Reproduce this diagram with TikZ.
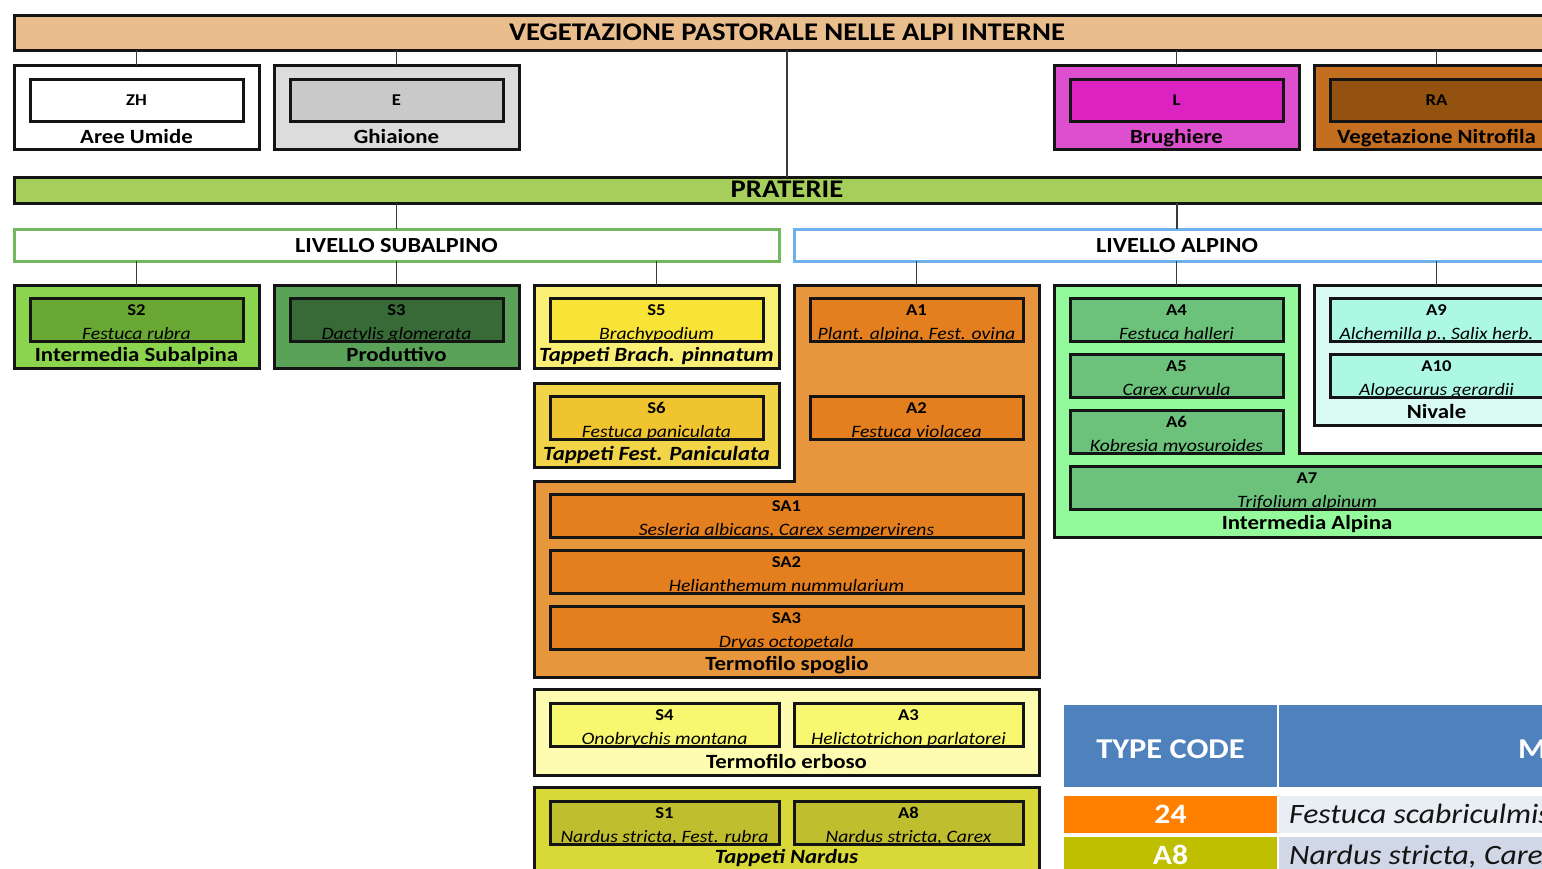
\documentclass[tikz,border=0pt]{standalone}
\usepackage{fontspec}
\usepackage{graphicx}
\setmainfont{Carlito}
\usetikzlibrary{fit}

% palette
\definecolor{ink}{HTML}{141414}
\definecolor{wirec}{HTML}{3A3A3A}
\definecolor{peach}{HTML}{EABD8C}
\definecolor{grayout}{HTML}{DCDCDC}
\definecolor{grayin}{HTML}{C9C9C9}
\definecolor{magout}{HTML}{DD4FCF}
\definecolor{magin}{HTML}{DC22C0}
\definecolor{brownout}{HTML}{C46E1F}
\definecolor{brownin}{HTML}{93520F}
\definecolor{prat}{HTML}{A5CF5A}
\definecolor{subline}{HTML}{72B85E}
\definecolor{alpline}{HTML}{6EB2EB}
\definecolor{stwoout}{HTML}{8BD44E}
\definecolor{stwoin}{HTML}{6AA834}
\definecolor{sthreeout}{HTML}{5AA257}
\definecolor{sthreein}{HTML}{376A37}
\definecolor{sfiveout}{HTML}{F8EF74}
\definecolor{sfivein}{HTML}{F8E337}
\definecolor{ssixout}{HTML}{F1D447}
\definecolor{ssixin}{HTML}{EFC42E}
\definecolor{spogout}{HTML}{E8963E}
\definecolor{spogin}{HTML}{E47F1F}
\definecolor{alpout}{HTML}{93F99B}
\definecolor{alpin}{HTML}{6CC27B}
\definecolor{nivout}{HTML}{D9FBF3}
\definecolor{nivin}{HTML}{ADF8E3}
\definecolor{erbout}{HTML}{FDFCB1}
\definecolor{erbin}{HTML}{F8F870}
\definecolor{narout}{HTML}{D8D838}
\definecolor{narin}{HTML}{BFBE2F}
\definecolor{thead}{HTML}{4F81BD}
\definecolor{torange}{HTML}{FF7F00}
\definecolor{tolive}{HTML}{BFBF00}
\definecolor{rowa}{HTML}{E9EDF4}
\definecolor{rowb}{HTML}{D0D8E8}

% lettering is set a little wider than the plain font
\newcommand\wide[1]{\scalebox{1.13}[1]{#1}}

\tikzset{
  box/.style={draw=ink, line width=3pt, inner sep=0pt, outer sep=0pt},
  levelbox/.style={line width=3pt, inner sep=0pt, outer sep=0pt, fill=white},
  cell/.style={inner sep=0pt, outer sep=0pt},
  wire/.style={draw=wirec, line width=1.3pt},
  headf/.style={font=\fontsize{25.4}{26}\selectfont\bfseries, inner sep=0pt},
  levelf/.style={font=\fontsize{21.5}{22}\selectfont\bfseries, inner sep=0pt},
  codef/.style={font=\fontsize{16.5}{17}\selectfont\bfseries, inner sep=0pt},
  specf/.style={font=\fontsize{17.4}{18}\selectfont\itshape, inner sep=0pt},
  labf/.style={font=\fontsize{20.2}{21}\selectfont\bfseries, inner sep=0pt},
  tabhf/.style={font=\fontsize{28.7}{29}\selectfont\bfseries, text=white, inner sep=0pt},
  tabcf/.style={font=\fontsize{28}{28}\selectfont\bfseries, text=white, inner sep=0pt},
  tabsf/.style={font=\fontsize{28}{28}\selectfont\itshape, text=ink, inner sep=0pt},
}

% top-row category: name, x1, y1, x2, y2, outer fill, inner fill, code, label
\newcommand\topcat[9]{%
  \node[box, fill=#6, fit={(#2,#3) (#4,#5)}] (#1) {};
  \node[box, fill=#7, fit={({#2+16},{#3+14}) ({#4-16},{#3+56})}] (#1-in) {};
  \node[codef, anchor=base] (#1-code) at ({(#2+#4)/2},{#3+40.5}) {\wide{#8}};
  \node[labf, anchor=base] (#1-lab) at ({(#2+#4)/2},{#5-6}) {\wide{#9}};
}
% grouping box with caption: name, x1, y1, x2, y2, fill, caption
\newcommand\groupbox[7]{%
  \node[box, fill=#6, fit={(#2,#3) (#4,#5)}] (#1) {};
  \node[labf, anchor=base] (#1-lab) at ({(#2+#4)/2},{#5-7}) {\wide{#7}};
}
% type box: name, x1, y1, x2, y2, fill, code, species (species sits on the lower edge)
\newcommand\typebox[8]{%
  \node[box, fill=#6, fit={(#2,#3) (#4,#5)}] (#1) {};
  \begin{scope}
    \clip (#2,#3) rectangle (#4,#5);
    \node[codef, anchor=base] (#1-code) at ({(#2+#4)/2},{#3+17}) {\wide{#7}};
    \node[specf, anchor=base] (#1-sp) at ({(#2+#4)/2},{#5-1.5}) {\wide{#8}};
  \end{scope}
  \draw[box] (#1.south west) rectangle (#1.north east);
}

\begin{document}
\begin{tikzpicture}[x=1pt, y=-1pt]
\useasboundingbox (0,0) rectangle (1542,868);
\clip (0,0) rectangle (1542,868);
\fill[white] (0,0) rectangle (1542,868);

% ---- head of the tree
\node[box, fill=peach, fit={(14,15) (1600,50)}] (head) {};
\node[headf, anchor=base] (head-t) at (787,40.5) {\wide{VEGETAZIONE PASTORALE NELLE ALPI INTERNE}};

\topcat{zh}{14}{65}{259}{149}{white}{white}{ZH}{Aree Umide}
\topcat{e}{274}{65}{519}{149}{grayout}{grayin}{E}{Ghiaione}
\topcat{l}{1054}{65}{1299}{149}{magout}{magin}{L}{Brughiere}
\topcat{ra}{1314}{65}{1559}{149}{brownout}{brownin}{RA}{Vegetazione Nitrofila}

% ---- grasslands
\node[box, fill=prat, fit={(14,177) (1600,203)}] (prat) {};
\node[headf, anchor=base] (prat-t) at (787,197.5) {\wide{PRATERIE}};

\node[levelbox, draw=subline, fit={(14,229) (779,261)}] (sub) {};
\node[levelf, anchor=base] (sub-t) at (sub.center |- 0,252.5) {\wide{LIVELLO SUBALPINO}};
\node[levelbox, draw=alpline, fit={(794,229) (1560,261)}] (alp) {};
\node[levelf, anchor=base] (alp-t) at (alp.center |- 0,252.5) {\wide{LIVELLO ALPINO}};

% subalpine level
\groupbox{gs2}{14}{285}{259}{368}{stwoout}{Intermedia Subalpina}
\typebox{s2}{30}{298}{243}{341}{stwoin}{S2}{Festuca rubra}
\groupbox{gs3}{274}{285}{519}{368}{sthreeout}{Produttivo}
\typebox{s3}{290}{298}{503}{341}{sthreein}{S3}{Dactylis glomerata}
\groupbox{gs5}{534}{285}{779}{368}{sfiveout}{\itshape Tappeti Brach. pinnatum}
\typebox{s5}{550}{298}{763}{341}{sfivein}{S5}{Brachypodium}
\groupbox{gs6}{534}{383}{779}{467}{ssixout}{\itshape Tappeti Fest. Paniculata}
\typebox{s6}{550}{396}{763}{439}{ssixin}{S6}{Festuca paniculata}

% thermophilous sparse swards (L-shaped group)
\coordinate (spog-top) at (916.5,285);
\draw[box, fill=spogout] (794,285) -- (1039,285) -- (1039,677) -- (534,677)
  -- (534,481) -- (794,481) -- cycle;
\node[labf, anchor=base] (spog-lab) at (787,670) {\wide{Termofilo spoglio}};
\typebox{a1}{810}{298}{1023}{341}{spogin}{A1}{Plant. alpina, Fest. ovina}
\typebox{a2}{810}{396}{1023}{439}{spogin}{A2}{Festuca violacea}
\typebox{sa1}{550}{494}{1023}{537}{spogin}{SA1}{Sesleria albicans, Carex sempervirens}
\typebox{sa2}{550}{550}{1023}{593}{spogin}{SA2}{Helianthemum nummularium}
\typebox{sa3}{550}{606}{1023}{649}{spogin}{SA3}{Dryas octopetala}

% intermediate alpine swards (L-shaped group)
\coordinate (ialp-top) at (1176.5,285);
\draw[box, fill=alpout] (1054,285) -- (1299,285) -- (1299,453) -- (1560,453)
  -- (1560,537) -- (1054,537) -- cycle;
\node[labf, anchor=base] (ialp-lab) at (1307,529.5) {\wide{Intermedia Alpina}};
\typebox{a4}{1070}{298}{1283}{341}{alpin}{A4}{Festuca halleri}
\typebox{a5}{1070}{354}{1283}{397}{alpin}{A5}{Carex curvula}
\typebox{a6}{1070}{410}{1283}{453}{alpin}{A6}{Kobresia myosuroides}
\typebox{a7}{1070}{466}{1544}{509}{alpin}{A7}{Trifolium alpinum}

% snowbed swards
\groupbox{niv}{1314}{285}{1559}{425}{nivout}{Nivale}
\typebox{a9}{1330}{298}{1543}{341}{nivin}{A9}{Alchemilla p., Salix herb.}
\typebox{a10}{1330}{354}{1543}{397}{nivin}{A10}{Alopecurus gerardii}

% thermophilous grassy swards
\groupbox{erb}{534}{689}{1039}{775}{erbout}{Termofilo erboso}
\typebox{s4}{550}{703}{779}{746}{erbin}{S4}{Onobrychis montana}
\typebox{a3}{794}{703}{1023}{746}{erbin}{A3}{Helictotrichon parlatorei}

% Nardus swards
\groupbox{nar}{534}{787}{1039}{870}{narout}{\itshape Tappeti Nardus}
\typebox{s1}{550}{801}{779}{844}{narin}{S1}{Nardus stricta, Fest. rubra}
\typebox{a8}{794}{801}{1023}{844}{narin}{A8}{Nardus stricta, Carex}

% ---- connectors
\draw[wire] (head.south -| zh.north) -- (zh.north);
\draw[wire] (head.south -| e.north) -- (e.north);
\draw[wire] (head.south -| head-t) -- (prat.north -| head-t);
\draw[wire] (head.south -| l.north) -- (l.north);
\draw[wire] (head.south -| ra.north) -- (ra.north);
\draw[wire] (prat.south -| sub.north) -- (sub.north);
\draw[wire] (prat.south -| alp.north) -- (alp.north);
\draw[wire] (sub.south -| gs2.north) -- (gs2.north);
\draw[wire] (sub.south -| gs3.north) -- (gs3.north);
\draw[wire] (sub.south -| gs5.north) -- (gs5.north);
\draw[wire] (alp.south -| spog-top) -- (spog-top);
\draw[wire] (alp.south -| ialp-top) -- (ialp-top);
\draw[wire] (alp.south -| niv.north) -- (niv.north);

% ---- legend table
\node[cell, fill=thead, fit={(1064,705) (1277,787)}] (th1) {};
\node[cell, fill=thead, fit={(1279,705) (1700,787)}] (th2) {};
\node[tabhf, anchor=base] (th1-t) at (th1.center |- 0,758) {\wide{TYPE CODE}};
\node[tabhf, anchor=base west] (th2-t) at (1518,758) {\wide{M}};
\node[cell, fill=torange, fit={(1064,796) (1277,833)}] (r1c1) {};
\node[cell, fill=rowa, fit={(1279,796) (1700,833)}] (r1c2) {};
\node[tabcf, anchor=base] (r1c1-t) at (r1c1.center |- 0,823.5) {\wide{24}};
\node[tabsf, anchor=base west] (r1c2-t) at (1289,823.5) {\wide{Festuca scabriculmis}};
\node[cell, fill=tolive, fit={(1064,837) (1277,900)}] (r2c1) {};
\node[cell, fill=rowb, fit={(1279,837) (1700,900)}] (r2c2) {};
\node[tabcf, anchor=base] (r2c1-t) at (r2c1.center |- 0,864) {\wide{A8}};
\node[tabsf, anchor=base west] (r2c2-t) at (1289,864) {\wide{Nardus stricta, Carex}};
\end{tikzpicture}
\end{document}
